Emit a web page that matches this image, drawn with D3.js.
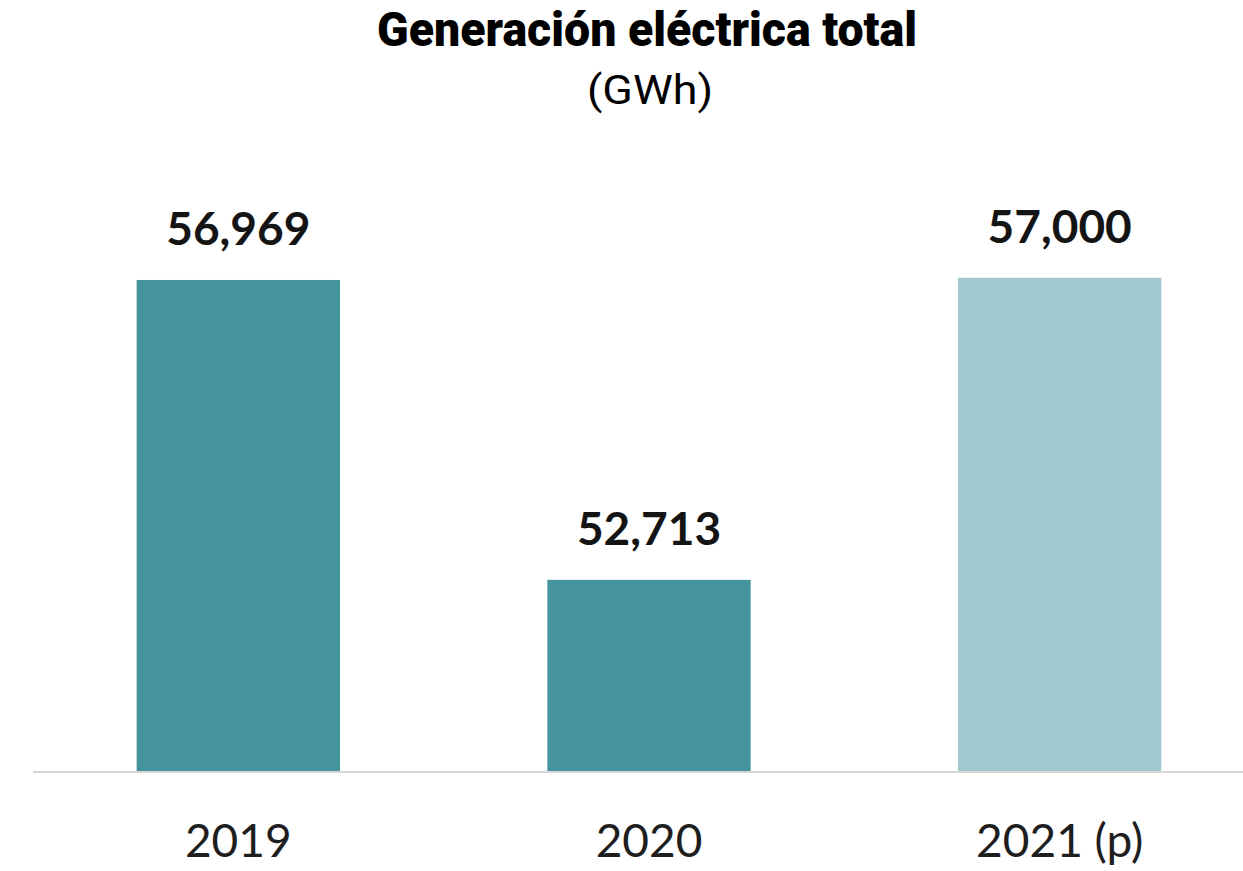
<!DOCTYPE html>
<html>
<head>
<meta charset="utf-8">
<script src="https://cdn.jsdelivr.net/npm/d3@7"></script>
<style>
  html, body { margin: 0; padding: 0; background: #ffffff; }
  svg { display: block; }
</style>
</head>
<body>
<svg id="chart" width="1243" height="871"></svg>
<script>
const categories = ["2019", "2020", "2021 (p)"];
const values = [56969, 52713, 57000];
const projected = [false, false, true];
const title = "Generación eléctrica total";
const subtitle = "(GWh)";

const svg = d3.select("#chart");
const W = 1243, H = 871;

const x = d3.scaleBand()
  .domain(categories)
  .range([34, 1264])
  .paddingInner(0.505)
  .paddingOuter(0.25);

const y = d3.scaleLinear()
  .domain([50000, 57000])
  .range([771, 277.8]);

const color = d3.scaleOrdinal()
  .domain([false, true])
  .range(["#45939d", "#a2c8cf"]);

const fmt = d3.format(",");

const data = categories.map((c, i) => ({ c, v: values[i], p: projected[i] }));

// Title
svg.append("text")
  .attr("x", 647)
  .attr("y", 46)
  .attr("text-anchor", "middle")
  .attr("font-family", "Roboto, 'Noto Sans', sans-serif")
  .attr("font-weight", 900)
  .attr("font-size", 48)
  .attr("textLength", 540)
  .attr("lengthAdjust", "spacingAndGlyphs")
  .attr("fill", "#000")
  .text(title);

svg.append("text")
  .attr("x", 650)
  .attr("y", 104)
  .attr("text-anchor", "middle")
  .attr("font-family", "Roboto, 'Noto Sans', sans-serif")
  .attr("font-weight", 400)
  .attr("font-size", 40)
  .attr("textLength", 126)
  .attr("lengthAdjust", "spacingAndGlyphs")
  .attr("fill", "#000")
  .text(subtitle);

// Bars
svg.append("g")
  .selectAll("rect")
  .data(data)
  .join("rect")
  .attr("x", d => x(d.c))
  .attr("width", x.bandwidth())
  .attr("y", d => y(d.v))
  .attr("height", d => y(50000) - y(d.v))
  .attr("fill", d => color(d.p));

// Axis baseline
const xAxis = d3.axisBottom(x).tickSize(0).tickPadding(0);
const gx = svg.append("g")
  .attr("transform", `translate(0, ${y(50000) + 1})`)
  .call(xAxis);
gx.select(".domain").remove();
gx.selectAll("text").remove();
gx.append("line")
  .attr("x1", 33).attr("x2", W)
  .attr("y1", 0).attr("y2", 0)
  .attr("stroke", "#d6d6d6")
  .attr("stroke-width", 2);

// Category labels
svg.append("g")
  .selectAll("text")
  .data(data)
  .join("text")
  .attr("x", d => x(d.c) + x.bandwidth() / 2)
  .attr("y", 857)
  .attr("text-anchor", "middle")
  .attr("font-family", "Lato, 'Open Sans', sans-serif")
  .attr("font-size", 46)
  .attr("fill", "#1e1e1e")
  .text(d => d.c);

// Value labels
svg.append("g")
  .selectAll("text")
  .data(data)
  .join("text")
  .attr("x", d => x(d.c) + x.bandwidth() / 2)
  .attr("y", d => y(d.v) - 35)
  .attr("text-anchor", "middle")
  .attr("font-family", "Lato, 'Open Sans', sans-serif")
  .attr("font-weight", 700)
  .attr("font-size", 46)
  .attr("fill", "#141414")
  .text(d => fmt(d.v));
</script>
</body>
</html>
